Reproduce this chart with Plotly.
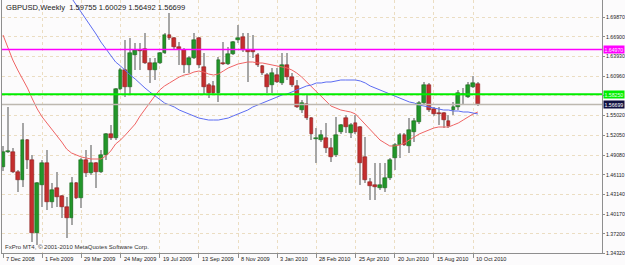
import plotly.graph_objects as go

# ---------------- data ----------------
week_index = list(range(98))

opens = [1.4727, 1.4953, 1.4953, 1.4652, 1.4532, 1.5134, 1.4833, 1.3733, 1.4457, 1.4788,
         1.4200, 1.4411, 1.4290, 1.4125, 1.3959, 1.4487, 1.4260, 1.4833, 1.4637, 1.4788,
         1.4652, 1.4908, 1.5225, 1.5165, 1.5903, 1.6189, 1.5933, 1.6415, 1.6490, 1.6505,
         1.6294, 1.6189, 1.6294, 1.6445, 1.6716, 1.6671, 1.6535, 1.6490, 1.6264, 1.6370,
         1.6671, 1.6234, 1.5963, 1.5948, 1.5842, 1.6294, 1.6279, 1.6430, 1.6641, 1.6686,
         1.6490, 1.6490, 1.6415, 1.6249, 1.6113, 1.5963, 1.6113, 1.5993, 1.6264, 1.6083,
         1.5948, 1.5586, 1.5676, 1.5466, 1.5150, 1.5134, 1.5165, 1.5014, 1.4908, 1.5255,
         1.5466, 1.5240, 1.5390, 1.5330, 1.4878, 1.4502, 1.4457, 1.4411, 1.4411, 1.4562,
         1.4863, 1.5059, 1.5210, 1.5044, 1.5255, 1.5405, 1.5691, 1.5963, 1.5601, 1.5541,
         1.5541, 1.5420, 1.5586, 1.5631, 1.5812, 1.5782, 1.5932, 1.59755]
highs = [1.5050, 1.5631, 1.5014, 1.4682, 1.5390, 1.5150, 1.4908, 1.4500, 1.4833, 1.4984,
         1.4487, 1.4652, 1.4306, 1.4275, 1.4577, 1.4502, 1.4863, 1.4984, 1.5059, 1.4803,
         1.4984, 1.5240, 1.5360, 1.5918, 1.6219, 1.6641, 1.6671, 1.6595, 1.6595, 1.6746,
         1.6370, 1.6370, 1.6460, 1.6746, 1.7047, 1.6680, 1.6611, 1.6520, 1.6400, 1.6746,
         1.6680, 1.6445, 1.5993, 1.6023, 1.6384, 1.6611, 1.6535, 1.6626, 1.6867, 1.6746,
         1.6746, 1.6716, 1.6445, 1.6264, 1.6143, 1.6219, 1.6219, 1.6445, 1.6445, 1.6143,
         1.6038, 1.5737, 1.5812, 1.5481, 1.5315, 1.5285, 1.5390, 1.5165, 1.5481, 1.5375,
         1.5511, 1.5390, 1.5511, 1.5345, 1.5180, 1.4562, 1.4788, 1.4788, 1.4788, 1.4863,
         1.5089, 1.5240, 1.5240, 1.5466, 1.5466, 1.5722, 1.6008, 1.5993, 1.5631, 1.5631,
         1.5556, 1.5511, 1.5707, 1.5887, 1.5918, 1.6008, 1.6098, 1.60029]
lows = [1.4660, 1.4938, 1.4637, 1.4351, 1.4426, 1.4700, 1.3598, 1.3553, 1.4125, 1.4080,
        1.4110, 1.4125, 1.3959, 1.3658, 1.3854, 1.4245, 1.4110, 1.4577, 1.4607, 1.4411,
        1.4637, 1.4833, 1.5134, 1.5134, 1.5887, 1.5782, 1.5812, 1.6189, 1.6189, 1.6279,
        1.5993, 1.6038, 1.6279, 1.6430, 1.6641, 1.6490, 1.6264, 1.6143, 1.6143, 1.6355,
        1.6219, 1.5812, 1.5767, 1.5812, 1.5707, 1.6264, 1.6264, 1.6415, 1.6596, 1.6460,
        1.6008, 1.6370, 1.6234, 1.6113, 1.5842, 1.5842, 1.5993, 1.5963, 1.6038, 1.5933,
        1.5616, 1.5541, 1.5436, 1.5134, 1.4788, 1.5104, 1.4938, 1.4803, 1.4878, 1.5225,
        1.5240, 1.5165, 1.5225, 1.4457, 1.4487, 1.4230, 1.4230, 1.4381, 1.4351, 1.4532,
        1.4682, 1.4863, 1.5044, 1.4938, 1.5104, 1.5375, 1.5661, 1.5556, 1.5496, 1.5360,
        1.5315, 1.5315, 1.5511, 1.5586, 1.5661, 1.5767, 1.5917, 1.56492]
closes = [1.4953, 1.4960, 1.4652, 1.4532, 1.5134, 1.4833, 1.3733, 1.4487, 1.4788, 1.4200,
          1.4381, 1.4275, 1.4125, 1.3959, 1.4487, 1.4260, 1.4833, 1.4637, 1.4788, 1.4652,
          1.4908, 1.5225, 1.5165, 1.5903, 1.6189, 1.5933, 1.6445, 1.6490, 1.6475, 1.6294,
          1.6189, 1.6294, 1.6445, 1.6716, 1.6671, 1.6535, 1.6505, 1.6264, 1.6370, 1.6641,
          1.6264, 1.5933, 1.5842, 1.5842, 1.6339, 1.6279, 1.6430, 1.6611, 1.6671, 1.6490,
          1.6460, 1.6460, 1.6264, 1.6143, 1.5933, 1.6143, 1.6008, 1.6264, 1.6083, 1.5963,
          1.5631, 1.5691, 1.5466, 1.5225, 1.5159, 1.5210, 1.5014, 1.4878, 1.5210, 1.5360,
          1.5330, 1.5360, 1.5255, 1.4788, 1.4532, 1.4441, 1.4426, 1.4457, 1.4562, 1.4833,
          1.5059, 1.5210, 1.5059, 1.5285, 1.5420, 1.5691, 1.5963, 1.5586, 1.5526, 1.5526,
          1.5436, 1.5345, 1.5631, 1.5842, 1.5818, 1.5963, 1.5993, 1.56699]

ma_red = [1.6716, 1.6520, 1.6339, 1.6189, 1.6053, 1.5917, 1.5752, 1.5601, 1.5481, 1.5390,
          1.5300, 1.5209, 1.5104, 1.4998, 1.4938, 1.4908, 1.4878, 1.4863, 1.4848, 1.4848,
          1.4848, 1.4893, 1.4968, 1.5074, 1.5134, 1.5209, 1.5285, 1.5375, 1.5496, 1.5601,
          1.5707, 1.5797, 1.5887, 1.5948, 1.5993, 1.6038, 1.6083, 1.6113, 1.6128, 1.6158,
          1.6173, 1.6158, 1.6128, 1.6113, 1.6128, 1.6173, 1.6219, 1.6249, 1.6279, 1.6294,
          1.6309, 1.6309, 1.6294, 1.6294, 1.6279, 1.6264, 1.6249, 1.6234, 1.6219, 1.6189,
          1.6143, 1.6083, 1.6008, 1.5932, 1.5857, 1.5782, 1.5707, 1.5646, 1.5616, 1.5586,
          1.5571, 1.5556, 1.5526, 1.5450, 1.5360, 1.5285, 1.5209, 1.5134, 1.5089, 1.5044,
          1.5044, 1.5059, 1.5089, 1.5134, 1.5179, 1.5224, 1.5255, 1.5285, 1.5315, 1.5330,
          1.5330, 1.5330, 1.5360, 1.5390, 1.5435, 1.5481, 1.5526, 1.5556]
ma_blue = [None] * 14 + [
           1.7273, 1.7168, 1.7062, 1.6942, 1.6836, 1.6731, 1.6610, 1.6505, 1.6399, 1.6309,
           1.6249, 1.6173, 1.6113, 1.6053, 1.5978, 1.5917, 1.5857, 1.5797, 1.5737, 1.5691,
           1.5661, 1.5631, 1.5586, 1.5556, 1.5526, 1.5496, 1.5465, 1.5450, 1.5435, 1.5435,
           1.5435, 1.5450, 1.5465, 1.5496, 1.5526, 1.5556, 1.5586, 1.5631, 1.5661, 1.5691,
           1.5722, 1.5752, 1.5782, 1.5812, 1.5827, 1.5857, 1.5887, 1.5917, 1.5948, 1.5963,
           1.5993, 1.5993, 1.6008, 1.6008, 1.6023, 1.6038, 1.6038, 1.6038, 1.6038, 1.6023,
           1.5993, 1.5948, 1.5917, 1.5887, 1.5857, 1.5827, 1.5797, 1.5767, 1.5737, 1.5707,
           1.5691, 1.5661, 1.5646, 1.5631, 1.5616, 1.5601, 1.5586, 1.5586, 1.5571, 1.5571,
           1.5556, 1.5556, 1.5541, 1.5526]

date_tick_index = [0, 8, 16, 24, 32, 40, 48, 56, 64, 72, 80, 88, 96]
date_tick_text = ["7 Dec 2008", "1 Feb 2009", "29 Mar 2009", "24 May 2009", "19 Jul 2009",
                  "13 Sep 2009", "8 Nov 2009", "3 Jan 2010", "28 Feb 2010", "25 Apr 2010",
                  "20 Jun 2010", "15 Aug 2010", "10 Oct 2010"]
price_ticks = [1.34320, 1.37200, 1.40170, 1.43140, 1.46110, 1.49080, 1.52050, 1.55020,
               1.57990, 1.60960, 1.63930, 1.66900, 1.69870]

level_magenta = 1.64970
level_green = 1.58250
last_price = closes[-1]
title_text = "GBPUSD,Weekly  %.5f %.5f %.5f %.5f" % (opens[-1], highs[-1], lows[-1], closes[-1])
copyright_text = "FxPro MT4, \u00a9 2001-2010 MetaQuotes Software Corp."

y_min, y_max = 1.34320, 1.72430
x_min, x_max = -0.204, 122.35

# price tick labels; a label that sits under a price box is hidden, as in the terminal
box_levels = [level_magenta, level_green, last_price]
price_tick_text = ["" if any(abs(v - b) < 0.004 for b in box_levels) else "%.5f" % v
                   for v in price_ticks]

# ---------------- styling ----------------
FONT = "Liberation Sans"
BG = "#FCFBFC"
AXIS = "#8E8E8E"
WICK = "#A6A6A6"
UP_FILL, UP_LINE = "#22962A", "#0E5A0E"
DN_FILL, DN_LINE = "#C42E2E", "#7E1212"
GRID = "rgba(215,185,125,0.45)"
AXIS_FONT = 5.2

fig = go.Figure()

# wicks
fig.add_trace(go.Bar(
    x=week_index, y=[h - l for h, l in zip(highs, lows)], base=lows,
    width=0.22, marker=dict(color=WICK, line=dict(width=0)),
    hoverinfo="skip", showlegend=False))

# bodies
body_base = [min(o, c) for o, c in zip(opens, closes)]
body_h = [max(abs(c - o), 0.0012) for o, c in zip(opens, closes)]
is_up = [c >= o for o, c in zip(opens, closes)]
fig.add_trace(go.Bar(
    x=week_index, y=body_h, base=body_base, width=0.78,
    marker=dict(color=[UP_FILL if u else DN_FILL for u in is_up],
                line=dict(color=[UP_LINE if u else DN_LINE for u in is_up], width=0.5)),
    hoverinfo="skip", showlegend=False))

# moving averages
fig.add_trace(go.Scatter(x=week_index, y=ma_red, mode="lines",
                         line=dict(color="#F06464", width=1), showlegend=False, hoverinfo="skip"))
fig.add_trace(go.Scatter(x=week_index, y=ma_blue, mode="lines",
                         line=dict(color="#5C6CF2", width=1), showlegend=False, hoverinfo="skip"))

# horizontal price levels across the full x range
fig.add_trace(go.Scatter(x=[x_min, x_max], y=[last_price, last_price], mode="lines",
                         line=dict(color="#BDB8B0", width=1.5), showlegend=False, hoverinfo="skip"))
fig.add_trace(go.Scatter(x=[x_min, x_max], y=[level_magenta, level_magenta], mode="lines",
                         line=dict(color="rgb(255,0,255)", width=1.3), showlegend=False, hoverinfo="skip"))
fig.add_trace(go.Scatter(x=[x_min, x_max], y=[level_green, level_green], mode="lines",
                         line=dict(color="rgb(0,238,0)", width=2), showlegend=False, hoverinfo="skip"))

annotations = []
for idx, txt in zip(date_tick_index, date_tick_text):
    annotations.append(dict(x=idx, xref="x", y=0, yref="paper", text=txt, showarrow=False,
                            xanchor="left", yanchor="top", xshift=1, yshift=-1,
                            font=dict(family=FONT, size=5.6, color="#222222")))

for val, bg, fg in [(level_magenta, "#FF00FF", "#FFE6FF"),
                    (level_green, "#00EE00", "#E8FFE8"),
                    (last_price, "#101040", "#FFFFFF")]:
    annotations.append(dict(x=1, xref="paper", y=val, yref="y", text="%.5f" % val,
                            showarrow=False, xanchor="left", yanchor="middle", xshift=1,
                            bgcolor=bg, borderpad=0.5,
                            font=dict(family=FONT, size=AXIS_FONT, color=fg)))

annotations.append(dict(x=0, xref="paper", y=1, yref="paper", text=title_text, showarrow=False,
                        xanchor="left", yanchor="top", xshift=2, yshift=-1,
                        font=dict(family=FONT, size=7.6, color="#1A1A1A")))
annotations.append(dict(x=0, xref="paper", y=0, yref="paper", text=copyright_text,
                        showarrow=False, xanchor="left", yanchor="bottom", xshift=1, yshift=1,
                        font=dict(family=FONT, size=6, color="#333333")))

fig.update_layout(
    width=625, height=265,
    margin=dict(l=2, r=23, t=0, b=12, pad=0),
    paper_bgcolor=BG, plot_bgcolor=BG,
    barmode="overlay", bargap=0,
    annotations=annotations,
    showlegend=False,
    font=dict(family=FONT, size=6, color="#222222"),
    xaxis=dict(range=[x_min, x_max], tickmode="array", tickvals=date_tick_index,
               showticklabels=False, ticks="outside", ticklen=4, tickcolor=AXIS, tickwidth=1,
               showline=True, linecolor=AXIS, linewidth=1,
               showgrid=True, gridcolor=GRID, griddash="dot", gridwidth=1,
               zeroline=False, fixedrange=True),
    yaxis=dict(range=[y_min, y_max], side="right", tickmode="array", tickvals=price_ticks,
               ticktext=price_tick_text, ticks="outside", ticklen=2, tickcolor=AXIS,
               tickfont=dict(family=FONT, size=AXIS_FONT, color="#222222"),
               showline=True, linecolor=AXIS, linewidth=1, mirror=True,
               showgrid=True, gridcolor=GRID, griddash="dot", gridwidth=1,
               zeroline=False, fixedrange=True, automargin=False),
)

fig.write_html("out.html")
